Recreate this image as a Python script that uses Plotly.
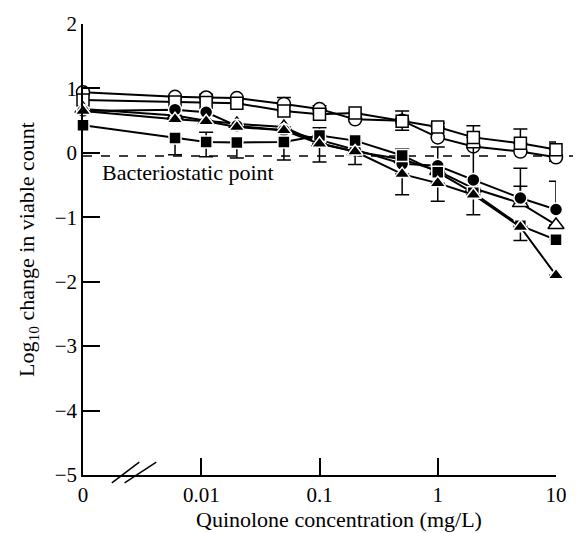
import plotly.graph_objects as go

# ---------------- data ----------------
concentration = [0, 0.006, 0.011, 0.02, 0.05, 0.1, 0.2, 0.5, 1, 2, 5, 10]
ZERO_POS = 0.001  # where "0" sits on the broken log axis

open_circle = [0.94, 0.87, 0.86, 0.85, 0.76, 0.68, 0.52, 0.50, 0.24, 0.10, 0.02, -0.07]
open_square = [0.82, 0.79, 0.78, 0.77, 0.65, 0.60, 0.62, 0.49, 0.40, 0.24, 0.15, 0.05]
filled_circle = [0.65, 0.67, 0.63, 0.42, 0.35, 0.20, 0.05, -0.17, -0.20, -0.42, -0.70, -0.88]
open_triangle = [0.68, 0.58, 0.50, 0.45, 0.40, 0.15, 0.02, -0.10, -0.28, -0.55, -0.78, -1.12]
filled_triangle = [0.65, 0.52, 0.49, 0.40, 0.35, 0.14, 0.02, -0.33, -0.47, -0.65, -1.15, -1.90]
filled_square = [0.43, 0.23, 0.17, 0.16, 0.17, 0.27, 0.19, -0.04, -0.30, -0.62, -1.13, -1.35]

# error bars (plus / minus)
open_circle_ep = [0, 0, 0.05, 0, 0.10, 0.05, 0, 0.15, 0, 0, 0, 0.06]
open_circle_em = [0, 0, 0, 0, 0, 0, 0, 0.15, 0, 0, 0, 0.06]
open_square_ep = [0, 0, 0, 0, 0, 0, 0, 0, 0.06, 0.18, 0.22, 0.12]
open_square_em = [0, 0, 0, 0, 0, 0, 0, 0, 0, 0, 0, 0]
filled_circle_ep = [0, 0, 0, 0, 0, 0, 0, 0, 0.29, 0.5, 0.46, 0.44]
filled_circle_em = [0, 0, 0, 0, 0, 0, 0, 0, 0, 0, 0, 0]
open_triangle_ep = [0, 0, 0, 0, 0, 0, 0, 0, 0, 0, 0.26, 0]
open_triangle_em = [0, 0, 0, 0, 0, 0, 0, 0, 0, 0, 0, 0]
filled_triangle_ep = [0, 0, 0, 0, 0, 0, 0, 0, 0, 0, 0, 0]
filled_triangle_em = [0, 0, 0, 0, 0, 0.28, 0.20, 0.32, 0.28, 0, 0, 0]
filled_square_ep = [0, 0, 0.15, 0, 0, 0.12, 0, 0.10, 0, 0, 0, 0]
filled_square_em = [0, 0.26, 0.23, 0.24, 0.28, 0, 0, 0, 0, 0.34, 0.23, 0]

x_ticks = [ZERO_POS, 0.01, 0.1, 1, 10]
x_tick_labels = ["0", "0.01", "0.1", "1", "10"]
y_ticks = [-5, -4, -3, -2, -1, 0, 1, 2]
bacteriostatic_level = -0.05

# ---------------- figure ----------------
x_plot = [c if c > 0 else ZERO_POS for c in concentration]
FONT = "Liberation Serif"

series = [
    (open_circle, open_circle_ep, open_circle_em, "circle", "white", "black", 13),
    (open_square, open_square_ep, open_square_em, "square", "white", "black", 12),
    (open_triangle, open_triangle_ep, open_triangle_em, "triangle-up", "white", "black", 14),
    (filled_circle, filled_circle_ep, filled_circle_em, "circle", "black", "white", 13),
    (filled_square, filled_square_ep, filled_square_em, "square", "black", "white", 12),
    (filled_triangle, filled_triangle_ep, filled_triangle_em, "triangle-up", "black", "white", 14),
]

fig = go.Figure()
for y, ep, em, sym, fill, edge, size in series:
    fig.add_trace(go.Scatter(
        x=x_plot, y=y, mode="lines+markers",
        line=dict(color="black", width=2),
        marker=dict(symbol=sym, size=size, color=fill,
                    line=dict(color=edge, width=1.5)),
        error_y=dict(type="data", symmetric=False, array=ep, arrayminus=em,
                     color="black", thickness=1.5, width=7),
        cliponaxis=False, showlegend=False,
    ))

# dashed bacteriostatic line
fig.add_shape(type="line", xref="paper", yref="y", x0=0, x1=1.036,
              y0=bacteriostatic_level, y1=bacteriostatic_level,
              line=dict(color="black", width=1.5, dash="dash"), layer="below")
fig.add_annotation(text="Bacteriostatic point", xref="paper", yref="y",
                   x=0.035, y=-0.3, xanchor="left", yanchor="middle",
                   showarrow=False, font=dict(family=FONT, size=22, color="black"))

# axis break marks
for x0, x1 in [(0.061, 0.119), (0.088, 0.155)]:
    fig.add_shape(type="line", xref="paper", yref="paper",
                  x0=x0, x1=x1, y0=-0.0175, y1=0.0285,
                  line=dict(color="black", width=1.5))

# x title as annotation (slightly right of centre in reference)
fig.add_annotation(text="Quinolone concentration (mg/L)", xref="paper", yref="paper",
                   x=0.541, y=-0.098, xanchor="center", yanchor="middle",
                   showarrow=False, font=dict(family=FONT, size=22, color="black"))

fig.update_layout(
    width=579, height=533,
    margin=dict(l=83, r=19, t=19, b=58),
    paper_bgcolor="white", plot_bgcolor="white",
    font=dict(family=FONT, size=21, color="black"),
    xaxis=dict(type="log", range=[-3, 1], tickvals=x_ticks, ticktext=x_tick_labels,
               ticks="inside", ticklen=17, tickwidth=1.5, tickcolor="black",
               tickfont=dict(family=FONT, size=21),
               showline=True, linecolor="black", linewidth=1.5,
               showgrid=False, zeroline=False),
    yaxis=dict(range=[-5, 2], tickvals=y_ticks,
               ticks="inside", ticklen=17, tickwidth=1.5, tickcolor="black",
               tickfont=dict(family=FONT, size=21),
               showline=True, linecolor="black", linewidth=1.5,
               showgrid=False, zeroline=False,
               title=dict(text="Log<sub>10</sub> change in viable count",
                          font=dict(family=FONT, size=22), standoff=14)),
)

fig.write_html("out.html", config={"displayModeBar": False},
               post_script="document.body.style.margin='0';")
